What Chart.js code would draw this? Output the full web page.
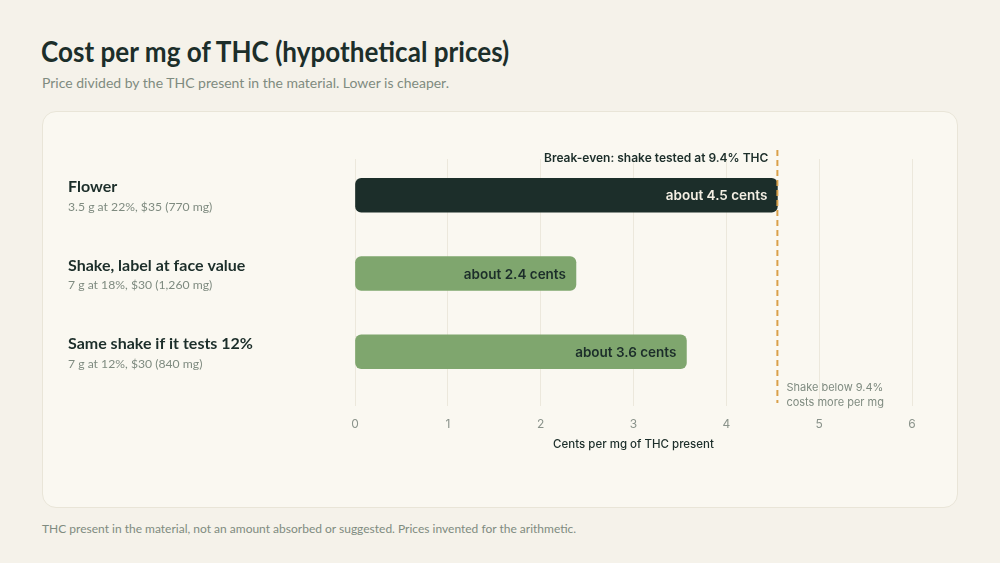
<!DOCTYPE html>
<html>
<head>
<meta charset="utf-8">
<script src="https://cdn.jsdelivr.net/npm/chart.js@4/dist/chart.umd.min.js"></script>
<style>
  html, body { margin:0; padding:0; }
  body { width:1000px; height:563px; background:#f5f2ea; position:relative; overflow:hidden; font-family:"Lato",sans-serif; }
  #title { position:absolute; left:41px; top:34px; font-size:28px; line-height:34px; font-weight:700; color:#1c2e2a; transform:scaleX(0.932); transform-origin:0 0; white-space:nowrap; }
  #subtitle { position:absolute; left:42px; top:74px; font-size:14px; line-height:18px; color:#7f8b80; }
  #card { position:absolute; left:42px; top:111px; width:914px; height:395px; background:#faf8f1; border:1px solid #e9e5d8; border-radius:14px; }
  #foot { position:absolute; left:42px; top:521px; font-size:12px; line-height:16px; color:#7f8b80; }
  #wrap { position:absolute; left:0; top:0; width:1000px; height:563px; }
</style>
</head>
<body>
<div id="title">Cost per mg of THC (hypothetical prices)</div>
<div id="subtitle">Price divided by the THC present in the material. Lower is cheaper.</div>
<div id="card"></div>
<div id="foot">THC present in the material, not an amount absorbed or suggested. Prices invented for the arithmetic.</div>
<div id="wrap"><canvas id="c" width="1000" height="563"></canvas></div>
<script>
const categories = ["Flower", "Shake, label at face value", "Same shake if it tests 12%"];
const details = ["3.5 g at 22%, $35 (770 mg)", "7 g at 18%, $30 (1,260 mg)", "7 g at 12%, $30 (840 mg)"];
const centsPerMg = [4.55, 2.38, 3.57];
const valueLabels = ["about 4.5 cents", "about 2.4 cents", "about 3.6 cents"];
const xTicks = [0, 1, 2, 3, 4, 5, 6];
const breakEvenCents = 4.55;
const breakEvenLabel = "Break-even: shake tested at 9.4% THC";
const breakEvenNote = ["Shake below 9.4%", "costs more per mg"];
const xTitle = "Cents per mg of THC present";

const barColors = ["#1c2e2a", "#7fa66e", "#7fa66e"];
const labelColors = ["#f4efe4", "#1c2e2a", "#1c2e2a"];
const FONT = '"Inter","Lato",sans-serif';
const LFONT = '"Lato",sans-serif';

const overlay = {
  id: 'overlay',
  afterDatasetsDraw(chart) {
    const ctx = chart.ctx;
    const xs = chart.scales.x, ys = chart.scales.y;
    const meta = chart.getDatasetMeta(0);
    ctx.save();
    // category labels
    categories.forEach((c, i) => {
      const y = ys.getPixelForValue(i);
      ctx.textAlign = 'left';
      ctx.textBaseline = 'middle';
      ctx.fillStyle = '#1c2e2a';
      ctx.font = '700 16px ' + LFONT;
      ctx.fillText(c, 68, y - 8);
      ctx.fillStyle = '#7f8b80';
      ctx.font = '400 12.2px ' + LFONT;
      ctx.fillText(details[i], 68, y + 12);
    });
    // value labels
    meta.data.forEach((bar, i) => {
      ctx.textAlign = 'right';
      ctx.textBaseline = 'middle';
      ctx.fillStyle = labelColors[i];
      ctx.font = '600 13.5px ' + FONT;
      ctx.fillText(valueLabels[i], bar.x - 10, bar.y + 1);
    });
    // break-even line
    const bx = xs.getPixelForValue(breakEvenCents);
    ctx.strokeStyle = '#d9a04a';
    ctx.lineWidth = 2;
    ctx.setLineDash([6, 4]);
    ctx.beginPath();
    ctx.moveTo(bx, chart.chartArea.top - 9);
    ctx.lineTo(bx, chart.chartArea.bottom - 3);
    ctx.stroke();
    ctx.setLineDash([]);
    ctx.textAlign = 'right';
    ctx.textBaseline = 'middle';
    ctx.fillStyle = '#1c2e2a';
    ctx.font = '600 12px ' + FONT;
    ctx.fillText(breakEvenLabel, bx - 9, chart.chartArea.top - 1);
    ctx.textAlign = 'left';
    ctx.fillStyle = '#7f8b80';
    ctx.font = '400 11px ' + FONT;
    ctx.fillText(breakEvenNote[0], bx + 9, chart.chartArea.bottom - 18);
    ctx.fillText(breakEvenNote[1], bx + 9, chart.chartArea.bottom - 3);
    ctx.restore();
  }
};

new Chart(document.getElementById('c'), {
  type: 'bar',
  data: {
    datasets: [{
      data: centsPerMg.map((v, i) => ({ x: v, y: i })),
      backgroundColor: barColors,
      borderRadius: 6,
      borderSkipped: false,
      barThickness: 34
    }]
  },
  options: {
    indexAxis: 'y',
    responsive: false,
    animation: false,
    devicePixelRatio: 1,
    layout: { padding: { left: 355, right: 88, top: 159, bottom: 0 } },
    plugins: { legend: { display: false }, tooltip: { enabled: false } },
    scales: {
      x: {
        type: 'linear',
        min: xTicks[0], max: xTicks[xTicks.length - 1],
        afterBuildTicks(s) { s.ticks = xTicks.map(v => ({ value: v })); },
        afterFit(s) { s.height = 157; },
        border: { display: false },
        grid: { color: '#ece8dc', lineWidth: 1, drawTicks: false },
        ticks: { padding: 11, color: '#8a938b', font: { family: FONT, size: 12 } },
        title: { display: true, text: xTitle, color: '#1c2e2a', font: { family: FONT, size: 11.5, weight: '500' }, padding: { top: 0, bottom: 112 } }
      },
      y: {
        type: 'linear',
        display: false,
        offset: false,
        reverse: true,
        min: -0.464, max: 2.694
      }
    }
  },
  plugins: [overlay]
});
</script>
</body>
</html>
